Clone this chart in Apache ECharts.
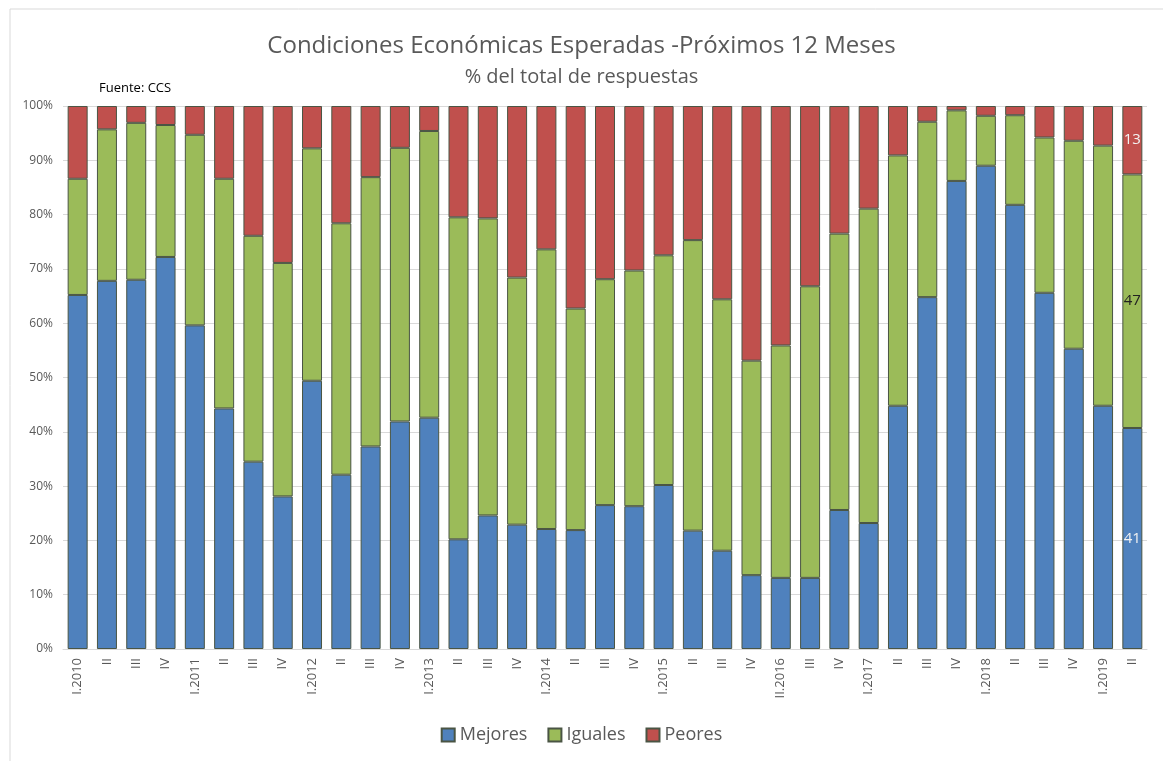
<!DOCTYPE html>
<html>
<head>
<meta charset="utf-8">
<script src="https://cdn.jsdelivr.net/npm/echarts@6/dist/echarts.min.js"></script>
<style>
html, body { margin: 0; padding: 0; background: #fff; }
#chart { width: 1163px; height: 761px; }
</style>
</head>
<body>
<div id="chart"></div>
<script>
// trimestres
var categorias = ['I.2010','II','III','IV','I.2011','II','III','IV','I.2012','II','III','IV',
	'I.2013','II','III','IV','I.2014','II','III','IV','I.2015','II','III','IV',
	'II.2016','III','IV','I.2017','II','III','IV','I.2018','II','III','IV','I.2019','II'];

var mejores = [65.2,67.8,68.0,72.2,59.6,44.3,34.5,28.1,49.4,32.1,37.3,41.9,
	42.6,20.2,24.6,22.9,22.1,21.9,26.5,26.3,30.2,21.8,18.1,13.6,
	13.1,13.1,25.6,23.2,44.8,64.8,86.2,89.0,81.8,65.6,55.3,44.8,40.7];

var iguales = [21.4,27.9,28.9,24.3,35.1,42.3,41.6,43.0,42.8,46.3,49.6,50.4,
	52.8,59.3,54.7,45.5,51.5,40.8,41.6,43.4,42.3,53.5,46.3,39.5,
	42.8,53.7,50.9,57.9,46.1,32.3,13.0,9.2,16.5,28.6,38.3,47.9,46.7];

var peores = [13.4,4.3,3.1,3.5,5.3,13.4,23.9,28.9,7.8,21.6,13.1,7.7,
	4.6,20.5,20.7,31.6,26.4,37.3,31.9,30.3,27.5,24.7,35.6,46.9,
	44.1,33.2,23.5,18.9,9.1,2.9,0.8,1.8,1.7,5.8,6.4,7.3,12.6];

var ticksY = [0,10,20,30,40,50,60,70,80,90,100];

var fuente = '"Open Sans", "Noto Sans", sans-serif';

// solo el ultimo trimestre lleva etiqueta
function conEtiqueta(valores, color){
	var ultimo = valores.length - 1;
	return valores.map(function(v, i){
		if (i !== ultimo) return v;
		return {
			value: v,
			label: {
				show: true,
				position: 'inside',
				color: color,
				fontSize: 15,
				fontFamily: fuente,
				formatter: function(p){ return Math.round(p.value); }
			}
		};
	});
}

var chart = echarts.init(document.getElementById('chart'));
chart.setOption({
	animation: false,
	color: ['#4F81BD','#9BBB59','#C0504D'],
	title: [{
		text: 'Condiciones Económicas Esperadas -Próximos 12 Meses',
		left: 'center',
		top: 29,
		textStyle: { fontFamily: fuente, fontSize: 24, fontWeight: 'normal', color: '#595959' }
	}, {
		text: '% del total de respuestas',
		left: 'center',
		top: 62,
		textStyle: { fontFamily: fuente, fontSize: 20, fontWeight: 'normal', color: '#595959' }
	}, {
		text: 'Fuente: CCS',
		left: 94,
		top: 77,
		textStyle: { fontFamily: fuente, fontSize: 13, fontWeight: 'normal', color: '#000' }
	}],
	graphic: [{
		type: 'rect',
		shape: { x: 10, y: 9, width: 1160, height: 760 },
		style: { fill: 'none', stroke: '#d9d9d9', lineWidth: 1 },
		silent: true
	}],
	legend: {
		data: ['Mejores','Iguales','Peores'],
		bottom: 12,
		left: 'center',
		itemWidth: 13,
		itemHeight: 13,
		itemGap: 20,
		icon: 'rect',
		textStyle: { fontFamily: fuente, fontSize: 18, color: '#595959' }
	},
	grid: {
		left: 63,
		right: 16,
		top: 106,
		bottom: 112,
		containLabel: false
	},
	xAxis: {
		type: 'category',
		data: categorias,
		axisTick: { show: false },
		axisLine: { lineStyle: { color: '#d9d9d9' } },
		axisLabel: {
			rotate: 90,
			interval: 0,
			margin: 9,
			fontFamily: fuente,
			fontSize: 13,
			color: '#595959'
		}
	},
	yAxis: {
		type: 'value',
		min: 0,
		max: 100,
		interval: 10,
		axisLine: { show: false },
		axisTick: { show: false },
		splitLine: { lineStyle: { color: '#d9d9d9' } },
		axisLabel: {
			fontFamily: fuente,
			fontSize: 12,
			color: '#595959',
			margin: 10,
			formatter: function(v){ return ticksY.indexOf(v) >= 0 ? v + '%' : ''; }
		}
	},
	series: [{
		name: 'Mejores',
		type: 'bar',
		stack: 'total',
		barWidth: 20,
		itemStyle: { borderColor: '#4a5544', borderWidth: 1 },
		data: conEtiqueta(mejores, '#f2f2f2')
	}, {
		name: 'Iguales',
		type: 'bar',
		stack: 'total',
		barWidth: 20,
		itemStyle: { borderColor: '#4a5544', borderWidth: 1 },
		data: conEtiqueta(iguales, '#222')
	}, {
		name: 'Peores',
		type: 'bar',
		stack: 'total',
		barWidth: 20,
		itemStyle: { borderColor: '#4a5544', borderWidth: 1 },
		data: conEtiqueta(peores, '#f2f2f2')
	}]
});
</script>
</body>
</html>
